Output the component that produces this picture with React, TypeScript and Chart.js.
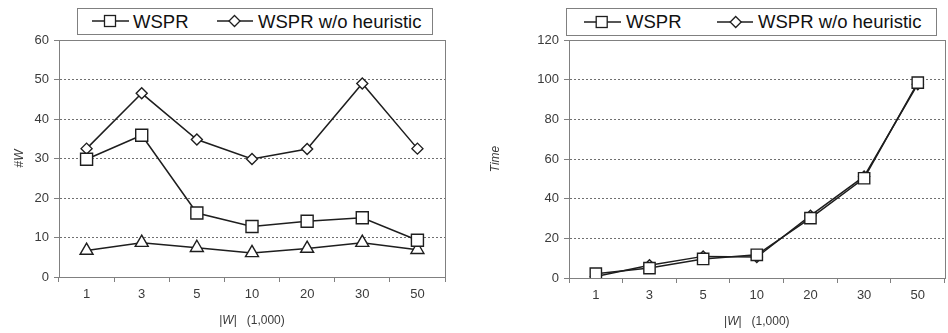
import React, { useEffect, useRef } from "react";
import { Chart, registerables } from "chart.js";

Chart.register(...registerables);

// ---------- data ----------
const categories = ["1", "3", "5", "10", "20", "30", "50"];

const countWSPR = [29.8, 35.9, 16.2, 12.8, 14.1, 15.0, 9.3];
const countWSPRNoHeuristic = [32.5, 46.5, 34.8, 29.9, 32.4, 49.0, 32.5];
const countBaseline = [6.7, 8.7, 7.4, 6.1, 7.2, 8.7, 6.9];

const timeWSPR = [2.2, 5.0, 9.6, 11.7, 30.2, 50.3, 98.5];
const timeWSPRNoHeuristic = [0.8, 6.4, 10.9, 10.6, 31.4, 51.2, 97.7];

const countAxis = { min: 0, max: 60, step: 10 };
const timeAxis = { min: 0, max: 120, step: 20 };

const legendLabels = ["WSPR", "WSPR w/o heuristic"];

// ---------- styles ----------
const FONT = "'Liberation Sans', Arial, sans-serif";
const INK = "#1e1e1e";
const TEXT = "#3a3a3a";
const AXIS = "#808080";

type Seg = { t: string; i?: boolean };

function drawSegs(ctx: CanvasRenderingContext2D, segs: Seg[], cx: number, cy: number, rot: number, size: number) {
  ctx.save();
  ctx.translate(cx, cy);
  ctx.rotate(rot);
  ctx.fillStyle = TEXT;
  ctx.textBaseline = "middle";
  ctx.textAlign = "left";
  let total = 0;
  const widths: number[] = [];
  for (const s of segs) {
    ctx.font = `${s.i ? "italic " : ""}${size}px ${FONT}`;
    const w = ctx.measureText(s.t).width;
    widths.push(w);
    total += w;
  }
  let x = -total / 2;
  segs.forEach((s, k) => {
    ctx.font = `${s.i ? "italic " : ""}${size}px ${FONT}`;
    ctx.fillText(s.t, x, 0);
    x += widths[k];
  });
  ctx.restore();
}

function makeConfig(opts: {
  datasets: any[];
  axis: { min: number; max: number; step: number };
  yWidth: number;
  xHeight: number;
  padRight: number;
  xTitle: Seg[];
  yTitle: Seg[];
  yTitleX: number;
  xTitleY: number;
}): any {
  const framePlugin = {
    id: "frame",
    beforeDatasetsDraw(chart: any) {
      const { ctx, chartArea: a } = chart;
      ctx.save();
      ctx.strokeStyle = AXIS;
      ctx.lineWidth = 1;
      ctx.setLineDash([]);
      ctx.strokeRect(Math.round(a.left) + 0.5, Math.round(a.top) + 0.5, Math.round(a.right - a.left), Math.round(a.bottom - a.top));
      ctx.restore();
    },
    afterDraw(chart: any) {
      const { ctx, chartArea: a } = chart;
      drawSegs(ctx, opts.xTitle, (a.left + a.right) / 2, opts.xTitleY, 0, 12);
      drawSegs(ctx, opts.yTitle, opts.yTitleX, (a.top + a.bottom) / 2, -Math.PI / 2, 12);
    },
  };
  return {
    type: "line",
    data: { labels: categories, datasets: opts.datasets },
    plugins: [framePlugin],
    options: {
      responsive: false,
      animation: false,
      devicePixelRatio: 1,
      events: [],
      layout: { padding: { left: 0, top: 40, right: opts.padRight, bottom: 0 } },
      plugins: { legend: { display: false }, tooltip: { enabled: false }, title: { display: false } },
      scales: {
        x: {
          type: "category",
          offset: true,
          afterFit(scale: any) {
            scale.height = opts.xHeight;
          },
          grid: {
            offset: true,
            drawOnChartArea: false,
            drawTicks: true,
            tickLength: 5,
            color: AXIS,
            tickColor: AXIS,
          },
          border: { display: true, color: AXIS, width: 1 },
          ticks: { color: TEXT, font: { family: FONT, size: 13 }, padding: 5, maxRotation: 0, autoSkip: false },
        },
        y: {
          min: opts.axis.min,
          max: opts.axis.max,
          afterFit(scale: any) {
            scale.width = opts.yWidth;
          },
          grid: {
            color: "#707070",
            lineWidth: 1,
            drawTicks: true,
            tickLength: 5,
            tickColor: AXIS,
            tickBorderDash: [],
          },
          border: { display: true, color: AXIS, width: 1, dash: [2, 2] },
          ticks: { stepSize: opts.axis.step, color: TEXT, font: { family: FONT, size: 13 }, padding: 5 },
        },
      },
    },
  };
}

function series(label: string, data: number[], style: string, radius: number) {
  return {
    label,
    data,
    borderColor: INK,
    backgroundColor: "#ffffff",
    borderWidth: 1.5,
    pointStyle: style,
    pointRadius: radius,
    pointBorderWidth: 1.4,
    pointBorderColor: INK,
    pointBackgroundColor: "#ffffff",
    tension: 0,
    fill: false,
  };
}

function ChartCanvas({ config, left, width }: { config: any; left: number; width: number }) {
  const ref = useRef<HTMLCanvasElement | null>(null);
  useEffect(() => {
    if (!ref.current) return;
    const chart = new Chart(ref.current, config);
    return () => chart.destroy();
  }, [config]);
  return <canvas ref={ref} width={width} height={333} style={{ position: "absolute", left, top: 0, width, height: 333 }} />;
}

function LegendIcon({ kind, cx, left, top, width }: { kind: "square" | "diamond"; cx: number; left: number; top: number; width: number }) {
  return (
    <svg width={width} height={14} style={{ position: "absolute", left, top }}>
      <line x1={0} y1={7} x2={width} y2={7} stroke={INK} strokeWidth={1.5} />
      {kind === "square" ? (
        <rect x={cx - 5.5} y={1.5} width={11} height={11} fill="#fff" stroke={INK} strokeWidth={1.3} />
      ) : (
        <polygon points={`${cx},1.5 ${cx + 5.5},7 ${cx},12.5 ${cx - 5.5},7`} fill="#fff" stroke={INK} strokeWidth={1.3} />
      )}
    </svg>
  );
}

function LegendBox({ left, width, height, layout }: { left: number; width: number; height: number; layout: { icon: number; iconW: number; cx: number; text: number; iconTop: number; textTop: number }[] }) {
  return (
    <div
      style={{
        position: "absolute",
        left,
        top: 8,
        width,
        height,
        boxSizing: "border-box",
        border: `1px solid ${AXIS}`,
        background: "#fff",
      }}
    >
      {layout.map((l, k) => (
        <React.Fragment key={k}>
          <LegendIcon kind={k === 0 ? "square" : "diamond"} cx={l.cx} left={l.icon} top={l.iconTop} width={l.iconW} />
          <div
            style={{
              position: "absolute",
              left: l.text,
              top: l.textTop,
              fontFamily: FONT,
              fontSize: 18.5,
              lineHeight: 1,
              color: "#111",
              whiteSpace: "nowrap",
            }}
          >
            {legendLabels[k]}
          </div>
        </React.Fragment>
      ))}
    </div>
  );
}

const leftConfig = makeConfig({
  datasets: [
    series(legendLabels[0], countWSPR, "rect", 8.5),
    series(legendLabels[1], countWSPRNoHeuristic, "rectRot", 5.5),
    series("", countBaseline, "triangle", 7.5),
  ],
  axis: countAxis,
  yWidth: 59,
  xHeight: 56,
  padRight: 29,
  xTitle: [{ t: "|" }, { t: "W", i: true }, { t: "|   (1,000)" }],
  yTitle: [{ t: "#" }, { t: "W", i: true }],
  yTitleX: 20,
  xTitleY: 321,
});

const rightConfig = makeConfig({
  datasets: [
    series(legendLabels[0], timeWSPR, "rect", 8),
    series(legendLabels[1], timeWSPRNoHeuristic, "rectRot", 5.5),
  ],
  axis: timeAxis,
  yWidth: 95,
  xHeight: 55,
  padRight: 2,
  xTitle: [{ t: "|" }, { t: "W", i: true }, { t: "|   (1,000)" }],
  yTitle: [{ t: "Time", i: true }],
  yTitleX: 22,
  xTitleY: 322,
});

export default function App() {
  return (
    <div
      style={{
        position: "fixed",
        left: 0,
        top: 0,
        width: 948,
        height: 333,
        overflow: "hidden",
        background: "#fff",
      }}
    >
      <ChartCanvas config={leftConfig} left={0} width={474} />
      <ChartCanvas config={rightConfig} left={474} width={480} />
      <LegendBox
        left={77}
        width={356}
        height={27}
        layout={[
          { icon: 14, iconW: 37, cx: 18, text: 55, iconTop: 5, textTop: 4 },
          { icon: 139, iconW: 36, cx: 17.5, text: 180, iconTop: 5, textTop: 4 },
        ]}
      />
      <LegendBox
        left={566}
        width={371}
        height={28}
        layout={[
          { icon: 17, iconW: 37, cx: 17.7, text: 59, iconTop: 6, textTop: 4 },
          { icon: 150, iconW: 36, cx: 18.7, text: 191, iconTop: 6, textTop: 4 },
        ]}
      />
    </div>
  );
}
